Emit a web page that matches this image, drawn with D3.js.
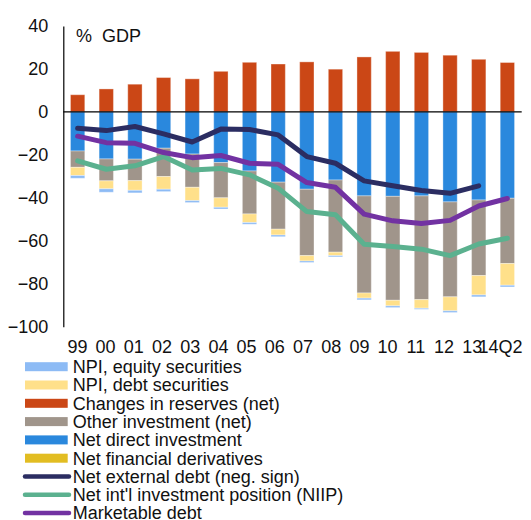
<!DOCTYPE html>
<html><head><meta charset="utf-8">
<script src="https://cdn.jsdelivr.net/npm/d3@7"></script>
<style>
html,body{margin:0;padding:0;background:#fff;}
svg{display:block;font-family:"Liberation Sans",Arial,sans-serif;}
</style></head>
<body><svg id="c" width="531" height="520"></svg>
<script>
const categories = ["99","00","01","02","03","04","05","06","07","08","09","10","11","12","13","14Q2"];
const reserves   = [8.0,10.7,12.9,16.0,15.4,18.9,23.1,22.3,23.3,19.9,25.6,28.2,27.7,26.4,24.5,23.0];
const directInv  = [-18.2,-21.9,-22.0,-16.9,-19.6,-23.6,-27.5,-32.7,-36.0,-31.7,-39.1,-39.3,-39.1,-41.9,-41.0,-40.2];
const otherInv   = [-7.6,-10.2,-10.0,-13.2,-15.5,-16.4,-20.0,-21.9,-30.9,-33.6,-45.2,-48.4,-48.3,-44.2,-35.2,-30.4];
const npiDebt    = [-3.8,-3.7,-4.5,-5.9,-6.2,-4.4,-4.0,-2.7,-2.5,-1.6,-2.4,-2.6,-4.0,-6.5,-9.0,-10.1];
const npiEquity  = [-1.3,-1.6,-1.2,-1.1,-0.9,-0.8,-0.8,-0.8,-0.7,-0.6,-0.8,-0.8,-0.5,-0.8,-0.9,-0.8];
const derivatives= [0,0,0,0,0,0,0,0,0,0,0,0,0,0,0,0];
const netExtDebt = [-7.6,-8.7,-6.8,-10.2,-14.0,-8.0,-8.2,-10.7,-20.8,-23.9,-32.1,-34.4,-36.6,-37.9,-34.4,null];
const niip       = [-22.8,-26.7,-25.1,-20.8,-27.0,-26.3,-29.3,-35.5,-46.4,-47.9,-61.6,-62.7,-63.9,-66.9,-61.5,-58.8];
const mktDebt    = [-11.3,-14.3,-14.6,-18.9,-21.3,-20.3,-23.9,-24.4,-32.9,-35.1,-47.6,-50.7,-52.0,-50.5,-43.8,-40.3];
const yTicks     = [40,20,0,-20,-40,-60,-80,-100];
const yUnit      = "%\u00a0 GDP";

const barSeries = [
  {key:"npiEquity", name:"NPI, equity securities", values:npiEquity, color:"#8DBBF5"},
  {key:"npiDebt", name:"NPI, debt securities", values:npiDebt, color:"#FFE08A"},
  {key:"reserves", name:"Changes in reserves (net)", values:reserves, color:"#CB4716"},
  {key:"otherInv", name:"Other investment (net)", values:otherInv, color:"#A0958B"},
  {key:"directInv", name:"Net direct investment", values:directInv, color:"#2A88DD"},
  {key:"derivatives", name:"Net financial derivatives", values:derivatives, color:"#E2BD22"}
];
const lineSeries = [
  {name:"Net external debt (neg. sign)", values:netExtDebt, color:"#2B2D62"},
  {name:"Net int'l investment position (NIIP)", values:niip, color:"#5BB18F"},
  {name:"Marketable debt", values:mktDebt, color:"#7232A2"}
];

const svg = d3.select("#c");
const pLeft = 63.3, pRight = 521.7, pTop = 26, pBottom = 326.7;
const x = d3.scaleBand().domain(categories).range([pLeft, pRight]).paddingInner(0.5).paddingOuter(0.25);
const xLab = d3.scaleBand().domain(categories).range([pLeft, pLeft + 16*28.2]).paddingInner(0.5).paddingOuter(0.25);
const y = d3.scaleLinear().domain([-100, 40]).range([pBottom, pTop]);

const stackOrder = ["reserves","directInv","otherInv","npiDebt","npiEquity","derivatives"];
const byKey = {}; barSeries.forEach(s => byKey[s.key] = s);
const table = categories.map((c,i) => {
  const o = {cat:c};
  stackOrder.forEach(k => o[k] = byKey[k].values[i]);
  return o;
});
const stacked = d3.stack().keys(stackOrder).offset(d3.stackOffsetDiverging)(table);

const gBars = svg.append("g");
stacked.forEach(layer => {
  const s = byKey[layer.key];
  gBars.selectAll(null).data(layer).enter().append("rect")
    .attr("x", d => x(d.data.cat))
    .attr("width", x.bandwidth())
    .attr("y", d => y(Math.max(d[0], d[1])))
    .attr("height", d => Math.abs(y(d[0]) - y(d[1])))
    .attr("fill", s.color)
    .attr("stroke", "#fff").attr("stroke-opacity", 0.35).attr("stroke-width", 1);
});

const yAxis = d3.axisLeft(y).tickValues(yTicks).tickSize(0).tickPadding(15).tickFormat(d3.format("d"));
const gy = svg.append("g").attr("transform", `translate(${pLeft},0)`).call(yAxis);
gy.select(".domain").attr("stroke", "#000").attr("stroke-width", 1.2);
gy.selectAll("text").attr("font-size", 18).attr("fill", "#111").attr("font-family", "Liberation Sans, Arial, sans-serif");

svg.append("line").attr("x1", pLeft).attr("x2", pRight).attr("y1", y(0)).attr("y2", y(0))
  .attr("stroke", "#000").attr("stroke-width", 1.2);

const xAxis = d3.axisBottom(xLab).tickSize(0).tickPadding(0);
const gx = svg.append("g").attr("transform", `translate(0,${pBottom + 14})`).call(xAxis);
gx.select(".domain").remove();
gx.selectAll("text").attr("font-size", 18).attr("fill", "#111").attr("dy", "0.71em").attr("font-family", "Liberation Sans, Arial, sans-serif");

const cx = c => x(c) + x.bandwidth()/2;
lineSeries.forEach(s => {
  const line = d3.line().defined(d => d.v !== null).x(d => cx(d.c)).y(d => y(d.v));
  svg.append("path").datum(categories.map((c,i) => ({c, v:s.values[i]})))
    .attr("d", line).attr("fill", "none").attr("stroke", s.color)
    .attr("stroke-width", 5).attr("stroke-linejoin", "round").attr("stroke-linecap", "round");
});

svg.append("text").attr("x", 76).attr("y", 42).attr("font-size", 18).attr("fill", "#111")
  .style("white-space", "pre").text(yUnit);

const legendItems = barSeries.map(s => ({name:s.name, color:s.color, type:"rect"}))
  .concat(lineSeries.map(s => ({name:s.name, color:s.color, type:"line"})));
const lg = svg.append("g");
legendItems.forEach((it, i) => {
  const cy = 366.7 + i * 18.3;
  if (it.type === "rect") {
    lg.append("rect").attr("x", 25).attr("y", cy - 4.5).attr("width", 42.7).attr("height", 9).attr("fill", it.color);
  } else {
    lg.append("line").attr("x1", 25).attr("x2", 69).attr("y1", cy).attr("y2", cy)
      .attr("stroke", it.color).attr("stroke-width", 4.5).attr("stroke-linecap", "round");
  }
  lg.append("text").attr("x", 72.7).attr("y", cy).attr("dy", "0.35em").attr("font-size", 18)
    .attr("fill", "#111").text(it.name);
});
</script></body></html>
